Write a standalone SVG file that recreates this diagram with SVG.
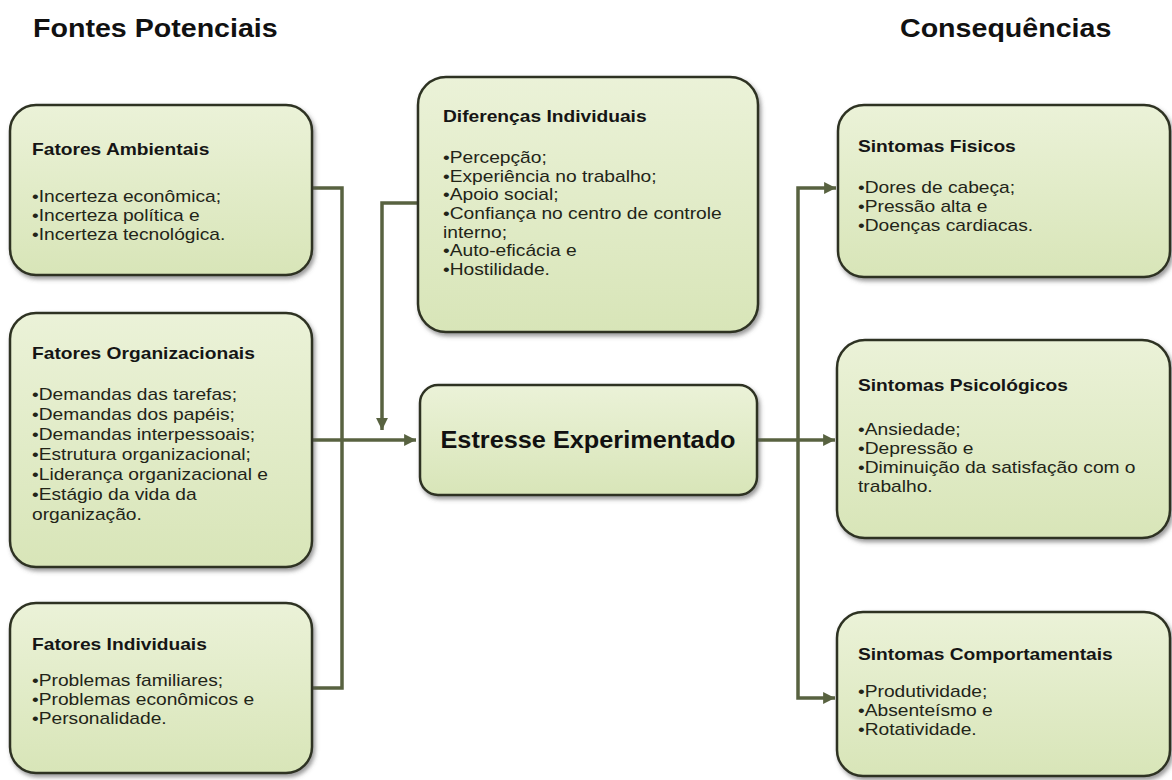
<svg xmlns="http://www.w3.org/2000/svg" width="1172" height="780" viewBox="0 0 1172 780">
<style>
.box{fill:url(#g);stroke:#2e3324;stroke-width:2.5;filter:url(#sh)}
.hd{font-family:"Liberation Sans",Arial,sans-serif;font-weight:bold;font-size:26px;fill:#111}
.tt{font-family:"Liberation Sans",Arial,sans-serif;font-weight:bold;font-size:16px;fill:#151515}
.tx{font-family:"Liberation Sans",Arial,sans-serif;font-size:16px;fill:#222418}
.big{font-family:"Liberation Sans",Arial,sans-serif;font-weight:bold;font-size:23px;fill:#111;text-anchor:middle}
.cn{fill:none;stroke:#586240;stroke-width:3.5}
</style>
<defs>
<linearGradient id="g" x1="0" y1="0" x2="0" y2="1">
<stop offset="0" stop-color="#ebf2d8"/>
<stop offset="1" stop-color="#d8e5b8"/>
</linearGradient>
<filter id="sh" x="-10%" y="-10%" width="120%" height="125%">
<feDropShadow dx="2" dy="3" stdDeviation="2" flood-color="#555" flood-opacity="0.6"/>
</filter>
<marker id="ar" viewBox="0 0 10 10" refX="10" refY="5" markerWidth="4" markerHeight="3.4" orient="auto" markerUnits="strokeWidth">
<path d="M0,0 L10,5 L0,10 z" fill="#586240"/>
</marker>
</defs>
<rect width="1172" height="780" fill="#fff"/>

<g id="headers">
<g transform="translate(33,37) scale(1.1,1)"><text class="hd" x="0" y="0">Fontes Potenciais</text></g>
<g transform="translate(900,37) scale(1.1,1)"><text class="hd" x="0" y="0">Consequências</text></g>
</g>

<g id="connectors">
<path class="cn" d="M312,188 H342 V688 H312"/>
<path class="cn" d="M312,440 H416" marker-end="url(#ar)"/>
<path class="cn" d="M418,203 H382 V430" marker-end="url(#ar)"/>
<path class="cn" d="M757,440 H835" marker-end="url(#ar)"/>
<path class="cn" d="M798,440 V188 H836" marker-end="url(#ar)"/>
<path class="cn" d="M798,440 V698 H835" marker-end="url(#ar)"/>
</g>

<g id="fatores-ambientais">
<rect class="box" x="10" y="105" width="302" height="170" rx="26"/>
<g transform="translate(32,0) scale(1.2,1)">
<text class="tt" x="0" y="155">Fatores Ambientais</text>
<text class="tx" x="0" y="202">•Incerteza econômica;</text>
<text class="tx" x="0" y="221">•Incerteza política e</text>
<text class="tx" x="0" y="240">•Incerteza tecnológica.</text>
</g>
</g>

<g id="fatores-organizacionais">
<rect class="box" x="10" y="313" width="302" height="254" rx="26"/>
<g transform="translate(32,0) scale(1.2,1)">
<text class="tt" x="0" y="359">Fatores Organizacionais</text>
<text class="tx" x="0" y="400">•Demandas das tarefas;</text>
<text class="tx" x="0" y="420">•Demandas dos papéis;</text>
<text class="tx" x="0" y="440">•Demandas interpessoais;</text>
<text class="tx" x="0" y="460">•Estrutura organizacional;</text>
<text class="tx" x="0" y="480">•Liderança organizacional e</text>
<text class="tx" x="0" y="500">•Estágio da vida da</text>
<text class="tx" x="0" y="520">organização.</text>
</g>
</g>

<g id="fatores-individuais">
<rect class="box" x="10" y="603" width="302" height="170" rx="26"/>
<g transform="translate(32,0) scale(1.2,1)">
<text class="tt" x="0" y="650">Fatores Individuais</text>
<text class="tx" x="0" y="686">•Problemas familiares;</text>
<text class="tx" x="0" y="705">•Problemas econômicos e</text>
<text class="tx" x="0" y="724">•Personalidade.</text>
</g>
</g>

<g id="diferencas-individuais">
<rect class="box" x="418" y="77" width="340" height="255" rx="28"/>
<g transform="translate(443,0) scale(1.2,1)">
<text class="tt" x="0" y="122">Diferenças Individuais</text>
<text class="tx" x="0" y="163">•Percepção;</text>
<text class="tx" x="0" y="182">•Experiência no trabalho;</text>
<text class="tx" x="0" y="200">•Apoio social;</text>
<text class="tx" x="0" y="219">•Confiança no centro de controle</text>
<text class="tx" x="0" y="238">interno;</text>
<text class="tx" x="0" y="256">•Auto-eficácia e</text>
<text class="tx" x="0" y="275">•Hostilidade.</text>
</g>
</g>

<g id="estresse-experimentado">
<rect class="box" x="420" y="385" width="337" height="110" rx="18"/>
<g transform="translate(588,448) scale(1.1,1)">
<text class="big" x="0" y="0">Estresse Experimentado</text>
</g>
</g>

<g id="sintomas-fisicos">
<rect class="box" x="838" y="105" width="332" height="172" rx="26"/>
<g transform="translate(858,0) scale(1.2,1)">
<text class="tt" x="0" y="152">Sintomas Fisicos</text>
<text class="tx" x="0" y="193">•Dores de cabeça;</text>
<text class="tx" x="0" y="212">•Pressão alta e</text>
<text class="tx" x="0" y="231">•Doenças cardiacas.</text>
</g>
</g>

<g id="sintomas-psicologicos">
<rect class="box" x="837" y="340" width="333" height="198" rx="28"/>
<g transform="translate(858,0) scale(1.2,1)">
<text class="tt" x="0" y="391">Sintomas Psicológicos</text>
<text class="tx" x="0" y="435">•Ansiedade;</text>
<text class="tx" x="0" y="454">•Depressão e</text>
<text class="tx" x="0" y="473">•Diminuição da satisfação com o</text>
<text class="tx" x="0" y="492">trabalho.</text>
</g>
</g>

<g id="sintomas-comportamentais">
<rect class="box" x="837" y="612" width="333" height="164" rx="26"/>
<g transform="translate(858,0) scale(1.2,1)">
<text class="tt" x="0" y="660">Sintomas Comportamentais</text>
<text class="tx" x="0" y="697">•Produtividade;</text>
<text class="tx" x="0" y="716">•Absenteísmo e</text>
<text class="tx" x="0" y="735">•Rotatividade.</text>
</g>
</g>
</svg>
